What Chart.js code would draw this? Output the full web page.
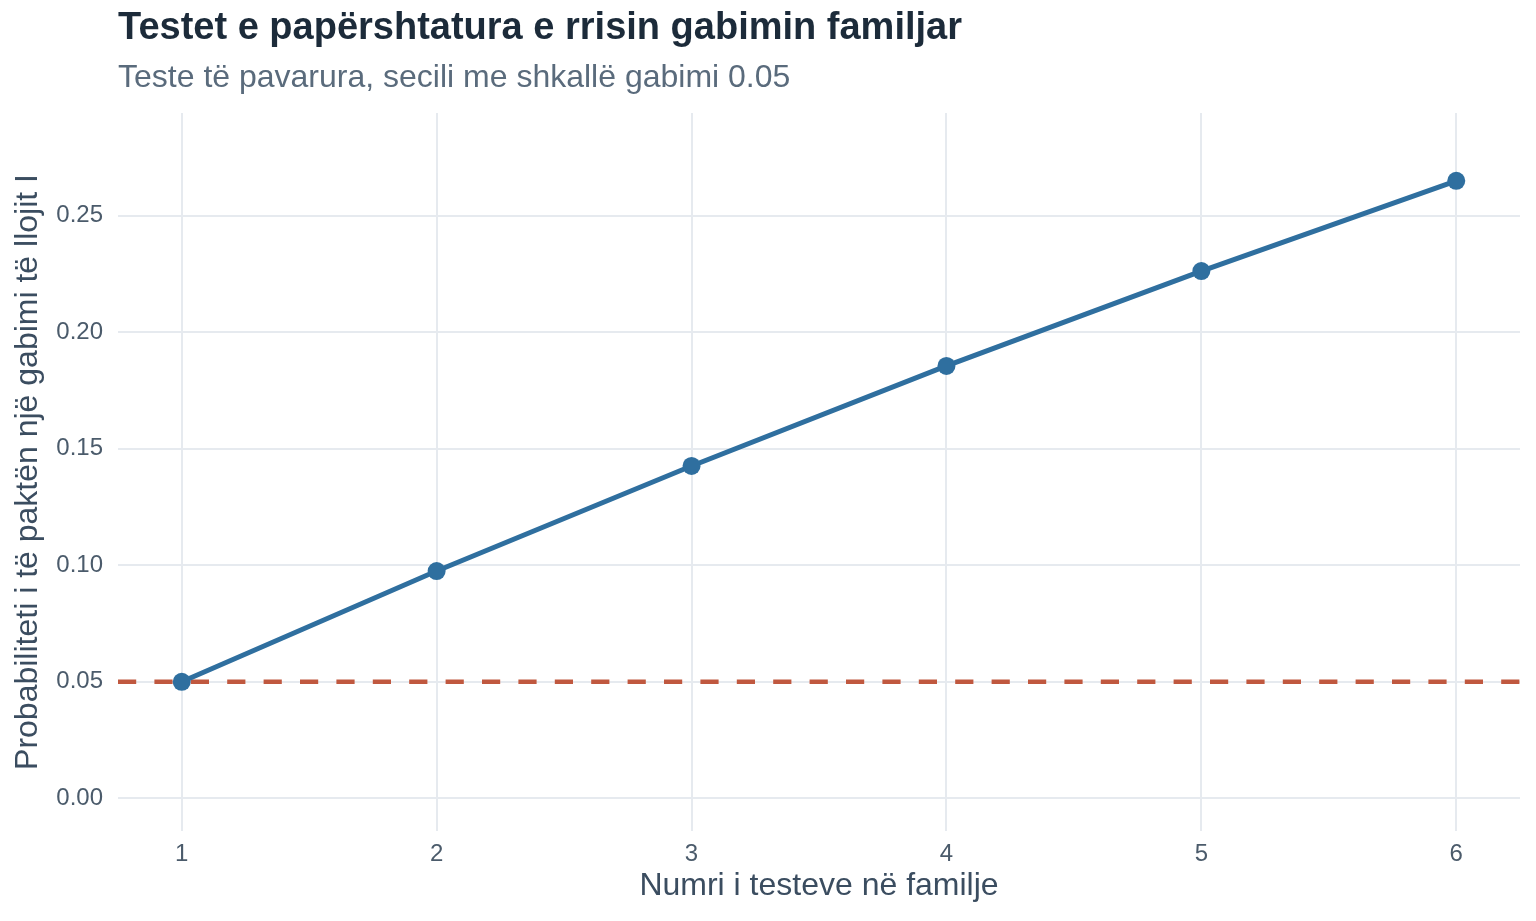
<!DOCTYPE html>
<html>
<head>
<meta charset="utf-8">
<script src="https://cdn.jsdelivr.net/npm/chart.js@4.4.1/dist/chart.umd.min.js"></script>
<style>
  html, body { margin: 0; padding: 0; background: #ffffff; }
  #familyChart { display: block; }
</style>
</head>
<body>
<canvas id="familyChart" width="1536" height="921"></canvas>
<script>
// values
const testCounts = [1, 2, 3, 4, 5, 6];
const familyErrorRates = [0.05, 0.0975, 0.1426, 0.1855, 0.2262, 0.2649];
const alphaLevel = 0.05;
const xTickValues = [1, 2, 3, 4, 5, 6];
const yTickValues = [0, 0.05, 0.10, 0.15, 0.20, 0.25];
const xRange = [0.75, 6.25];
const yRange = [-0.014, 0.294];

const fontFamily = '"Liberation Sans", Arial, Helvetica, sans-serif';
const gridColor = '#e6eaef';

let ctx = document.getElementById('familyChart').getContext('2d');

let familyChart = new Chart(ctx, {
    type: 'line',
    data: {
        datasets: [{
            label: 'Probabiliteti',
            data: testCounts.map((n, i) => ({ x: n, y: familyErrorRates[i] })),
            borderColor: '#2f6f9f',
            backgroundColor: '#2f6f9f',
            borderWidth: 5,
            pointRadius: 9,
            pointBorderWidth: 0,
            fill: false,
            tension: 0,
            order: 1
        }, {
            label: 'alpha',
            data: xRange.map(x => ({ x: x, y: alphaLevel })),
            borderColor: '#c0583f',
            borderWidth: 4.5,
            borderDash: [18.2, 18.2],
            borderCapStyle: 'butt',
            pointRadius: 0,
            fill: false,
            order: 2
        }]
    },
    options: {
        responsive: false,
        devicePixelRatio: 1,
        animation: false,
        layout: { padding: { left: 0, right: 16, top: 0, bottom: 0 } },
        plugins: {
            legend: { display: false },
            tooltip: { enabled: false },
            title: {
                display: true,
                text: 'Testet e papërshtatura e rrisin gabimin familjar',
                align: 'start',
                fullSize: false,
                color: '#1c2b3a',
                font: { family: fontFamily, size: 38, weight: 'bold', lineHeight: 1.2 },
                padding: { top: 6, bottom: 0 }
            },
            subtitle: {
                display: true,
                text: 'Teste të pavarura, secili me shkallë gabimi 0.05',
                align: 'start',
                fullSize: false,
                color: '#5a6b7c',
                font: { family: fontFamily, size: 32, lineHeight: 1.2 },
                padding: { top: 7, bottom: 16 }
            }
        },
        scales: {
            x: {
                type: 'linear',
                min: xRange[0],
                max: xRange[1],
                afterBuildTicks: scale => { scale.ticks = xTickValues.map(v => ({ value: v })); },
                afterFit: scale => { scale.height = 90; },
                grid: { color: gridColor, lineWidth: 2, drawTicks: false },
                border: { display: false },
                ticks: {
                    color: '#4b5b6b',
                    padding: 9,
                    maxRotation: 0,
                    font: { family: fontFamily, size: 24, lineHeight: 1.2 },
                    callback: v => String(v)
                },
                title: {
                    display: true,
                    text: 'Numri i testeve në familje',
                    color: '#3b4d60',
                    font: { family: fontFamily, size: 32, lineHeight: 1.2 },
                    padding: { top: 0, bottom: 16 }
                }
            },
            y: {
                type: 'linear',
                min: yRange[0],
                max: yRange[1],
                afterBuildTicks: scale => { scale.ticks = yTickValues.map(v => ({ value: v })); },
                afterFit: scale => { scale.width = 118; },
                grid: { color: gridColor, lineWidth: 2, drawTicks: false },
                border: { display: false },
                ticks: {
                    color: '#4b5b6b',
                    padding: 15,
                    font: { family: fontFamily, size: 24, lineHeight: 1.2 },
                    callback: v => v.toFixed(2)
                },
                title: {
                    display: true,
                    text: 'Probabiliteti i të paktën një gabimi të llojit I',
                    color: '#3b4d60',
                    font: { family: fontFamily, size: 32, lineHeight: 1.2 },
                    padding: { top: 9, bottom: 0 }
                }
            }
        }
    }
});
</script>
</body>
</html>
